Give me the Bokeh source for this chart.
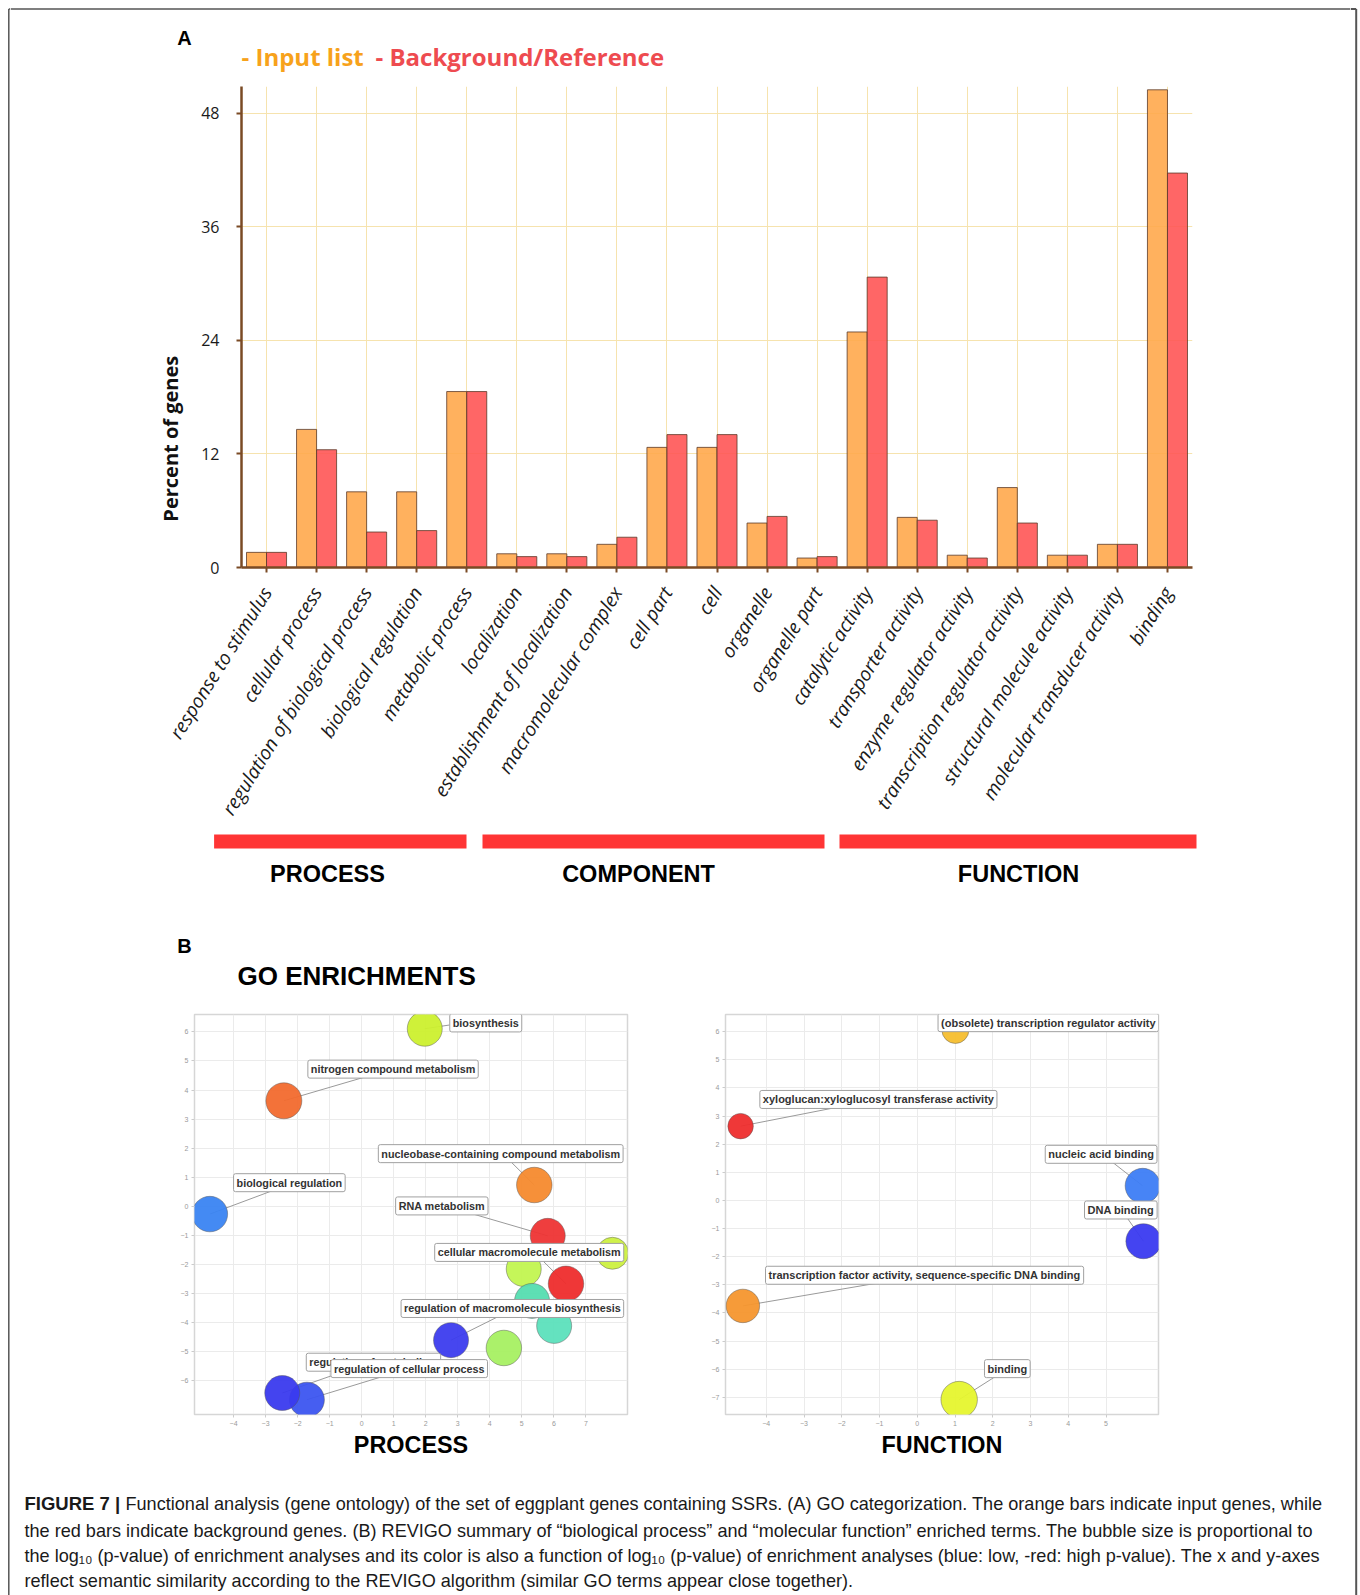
import numpy as np
from bokeh.plotting import figure
from bokeh.models import ColumnDataSource, FactorRange, Range1d, FixedTicker
from bokeh.layouts import row, column
from bokeh.transform import dodge
from bokeh.core.properties import value
from bokeh.embed import file_html
from bokeh.resources import INLINE

# ---------------- DATA ----------------
categories = ["response to stimulus", "cellular process", "regulation of biological process",
              "biological regulation", "metabolic process", "localization",
              "establishment of localization", "macromolecular complex", "cell part", "cell",
              "organelle", "organelle part", "catalytic activity", "transporter activity",
              "enzyme regulator activity", "transcription regulator activity",
              "structural molecule activity", "molecular transducer activity", "binding"]
input_pct = [1.6, 14.6, 8.0, 8.0, 18.6, 1.45, 1.45, 2.45, 12.7, 12.7, 4.7, 1.0,
             24.9, 5.3, 1.3, 8.45, 1.3, 2.45, 50.5]
background_pct = [1.6, 12.45, 3.75, 3.9, 18.6, 1.15, 1.15, 3.2, 14.05, 14.05, 5.4, 1.15,
                  30.7, 5.0, 1.0, 4.7, 1.3, 2.45, 41.7]
y_ticks = [0, 12, 24, 36, 48]
y_title = "Percent of genes"
legend_labels = ["- Input list", "- Background/Reference"]
ontology_groups = ["PROCESS", "COMPONENT", "FUNCTION"]

# REVIGO bubbles: biological process
proc_x = [1.97, -2.43, 5.39, -4.74, 5.81, 7.83, 5.06, 5.32, 6.38, 6.01, 2.79, 4.44, -1.71, -2.48]
proc_y = [6.11, 3.63, 0.73, -0.27, -1.02, -1.62, -2.16, -3.26, -2.67, -4.12, -4.61, -4.88, -6.66, -6.43]
proc_color = ["#CCF02E", "#F26A2E", "#F58A2E", "#3A84F2", "#EE3434", "#CCF040", "#C2F550",
              "#55DDB0", "#EE2C2C", "#5CE0BC", "#3C3CEE", "#A6F062", "#3C55F0", "#3A3AEE"]
proc_logp = [3.5, 3.6, 3.55, 3.55, 3.5, 3.2, 3.5, 3.5, 3.55, 3.5, 3.5, 3.55, 3.5, 3.5]
proc_labels = ["biosynthesis", "nitrogen compound metabolism",
               "nucleobase-containing compound metabolism", "biological regulation",
               "RNA metabolism", "cellular macromolecule metabolism",
               "regulation of macromolecule biosynthesis", "regulation of metabolism",
               "regulation of cellular process"]
proc_label_of = [0, 1, 2, 3, 4, 8, 10, 13, 12]
proc_label_x = [2.75, -1.68, 0.52, -4.0, 1.06, 2.28, 1.23, -1.73, -0.96]
proc_label_y = [6.31, 4.72, 1.81, 0.81, 0.01, -1.59, -3.52, -5.37, -5.59]
proc_link_x = [2.75, 0.17, 4.64, -2.75, 3.39, 5.63, 4.28, -0.77, 0.69]
proc_link_y = [6.24, 4.47, 1.55, 0.55, -0.24, -1.85, -3.79, -5.77, -5.85]

# REVIGO bubbles: molecular function
func_x = [1.01, -4.68, 5.97, 5.99, -4.62, 1.11]
func_y = [6.06, 2.64, 0.52, -1.45, -3.75, -7.08]
func_color = ["#F5BE2E", "#EE2D2D", "#3D7DF5", "#3A3AF0", "#F5962E", "#E6F52E"]
func_logp = [2.7, 2.55, 3.5, 3.5, 3.35, 3.65]
func_labels = ["(obsolete) transcription regulator activity",
               "xyloglucan:xyloglucosyl transferase activity", "nucleic acid binding",
               "DNA binding", "transcription factor activity, sequence-specific DNA binding",
               "binding"]
func_label_of = [0, 1, 2, 3, 4, 5]
func_label_x = [0.55, -4.17, 3.39, 4.43, -4.02, 1.78]
func_label_y = [6.32, 3.59, 1.64, -0.34, -2.66, -5.98]
func_link_x = [0.9, -2.13, 5.15, 5.55, -1.02, 2.07]
func_link_y = [6.2, 3.31, 1.38, -0.60, -2.93, -6.26]

caption_lines = [
    "Functional analysis (gene ontology) of the set of eggplant genes containing SSRs. (A) GO categorization. The orange bars indicate input genes, while",
    "the red bars indicate background genes. (B) REVIGO summary of \u201cbiological process\u201d and \u201cmolecular function\u201d enriched terms. The bubble size is proportional to",
    "the log\u2081\u2080 (p-value) of enrichment analyses and its color is also a function of log\u2081\u2080 (p-value) of enrichment analyses (blue: low, -red: high p-value). The x and y-axes",
    "reflect semantic similarity according to the REVIGO algorithm (similar GO terms appear close together).",
]

# ---------------- helpers ----------------
BORDER = "#555555"
FONT_S = "Open Sans"
ARIAL_S = "Liberation Sans"
FONT = value(FONT_S)
ARIAL = value(ARIAL_S)
NBSP = "\u00a0"


def canvas(w, h, x0, y0):
    p = figure(width=w, height=h, x_range=Range1d(x0, x0 + w), y_range=Range1d(y0 + h, y0),
               output_backend="svg", toolbar_location=None,
               x_axis_location=None, y_axis_location=None,
               min_border_left=0, min_border_right=0, min_border_top=0, min_border_bottom=0)
    p.outline_line_color = None
    p.grid.visible = False
    return p


# ---------------- side strips (outer frame) ----------------
lstrip = canvas(10, 1595, 0, 0)
lstrip.segment(x0=[8.3, 8.3], y0=[8.5, 8.5], x1=[8.3, 10], y1=[1600, 8.5],
               line_color=BORDER, line_width=1.5)
rstrip = canvas(10, 1595, 1350, 0)
rstrip.segment(x0=[1355.7, 1350], y0=[8.5, 8.5], x1=[1355.7, 1355.7], y1=[1600, 8.5],
               line_color=BORDER, line_width=2)

# ---------------- header A ----------------
head_a = canvas(1340, 86, 10, 0)
head_a.segment(x0=[10], y0=[8.5], x1=[1350], y1=[8.5], line_color=BORDER, line_width=1.5)
head_a.text(x=[184], y=[37], text=["A"], text_font=ARIAL, text_font_style="bold",
            text_font_size="20px", text_color="#000000", text_align="center", text_baseline="middle")
head_a.text(x=[241, 375], y=[56, 56], text=legend_labels, text_font=FONT, text_font_style="bold",
            text_font_size="24px", text_color=["#F7A21B", "#EE4B50"],
            text_align="left", text_baseline="middle")

# ---------------- bar chart ----------------
bar = figure(x_range=FactorRange(factors=categories), y_range=Range1d(0, 50.85),
             width=1340, height=744, output_backend="svg", toolbar_location=None,
             min_border_left=231, min_border_right=158, min_border_top=0, min_border_bottom=262)
bar.outline_line_color = None
src = ColumnDataSource(dict(cat=categories, inp=input_pct, bg=background_pct))
bar.vbar(x=dodge("cat", -0.2, range=bar.x_range), top="inp", width=0.4, source=src,
         fill_color="#FFA94D", fill_alpha=0.9, line_color="#5b3b2b", line_alpha=0.8, line_width=1)
bar.vbar(x=dodge("cat", 0.2, range=bar.x_range), top="bg", width=0.4, source=src,
         fill_color="#FF5555", fill_alpha=0.9, line_color="#5b3b2b", line_alpha=0.8, line_width=1)
bar.xgrid.grid_line_color = "#F6E3AE"
bar.ygrid.grid_line_color = "#F6E3AE"
bar.ygrid.ticker = FixedTicker(ticks=[12, 24, 36, 48])
bar.yaxis.ticker = FixedTicker(ticks=y_ticks)
AX = "#7A4A24"
for ax in (bar.xaxis, bar.yaxis):
    ax.axis_line_color = AX
    ax.axis_line_width = 2.5
    ax.major_tick_line_color = AX
    ax.major_tick_line_width = 2
    ax.major_tick_in = 0
    ax.major_tick_out = 5
    ax.minor_tick_line_color = None
    ax.major_label_text_font = FONT_S
    ax.major_label_text_color = "#1a1a1a"
bar.yaxis.major_label_text_font_size = "16px"
bar.yaxis.major_label_standoff = 17
# title shifted below the frame centre (as in the reference) with trailing no-break spaces
bar.yaxis.axis_label = y_title + NBSP * 43
bar.yaxis.axis_label_text_font = FONT_S
bar.yaxis.axis_label_text_font_style = "bold"
bar.yaxis.axis_label_text_font_size = "20px"
bar.yaxis.axis_label_text_color = "#111111"
bar.yaxis.axis_label_standoff = 14
bar.xaxis.major_label_text_font_size = "19.2px"
bar.xaxis.major_label_text_font_style = "italic"
bar.xaxis.major_label_orientation = float(np.deg2rad(58))
bar.xaxis.major_label_standoff = 16

# ---------------- group strip ----------------
strip = canvas(1340, 75, 10, 830)
strip.quad(left=[213.6, 482, 839], right=[466, 824, 1196], top=[834, 834, 834],
           bottom=[848, 848, 848], fill_color="#FF3535", line_color=None)
strip.text(x=[327, 638, 1018], y=[873, 873, 873], text=ontology_groups, text_font=ARIAL,
           text_font_style="bold", text_font_size="23.5px", text_color="#000000",
           text_align="center", text_baseline="middle")

# ---------------- header B ----------------
head_b = canvas(1340, 100, 10, 905)
head_b.text(x=[184], y=[945], text=["B"], text_font=ARIAL, text_font_style="bold",
            text_font_size="20px", text_color="#000000", text_align="center", text_baseline="middle")
head_b.text(x=[237], y=[975.5], text=["GO ENRICHMENTS"], text_font=ARIAL, text_font_style="bold",
            text_font_size="26px", text_color="#000000", text_align="left", text_baseline="middle")


# ---------------- REVIGO bubble plots ----------------
def bubble_fig(w, xr, yr, borders, xticks, yticks, title, bx, by, bc, bs,
               labels, label_of, lx, ly, kx, ky, fsize):
    p = figure(width=w, height=465, x_range=Range1d(*xr), y_range=Range1d(*yr),
               output_backend="svg", toolbar_location=None,
               min_border_left=borders[0], min_border_right=borders[1],
               min_border_top=borders[2], min_border_bottom=borders[3])
    p.outline_line_color = "#d6d6d6"
    p.outline_line_width = 1.5
    p.xaxis.ticker = FixedTicker(ticks=xticks)
    p.yaxis.ticker = FixedTicker(ticks=yticks)
    p.xgrid.ticker = FixedTicker(ticks=xticks)
    p.ygrid.ticker = FixedTicker(ticks=yticks)
    p.grid.grid_line_color = "#ebebeb"
    for ax in (p.xaxis, p.yaxis):
        ax.axis_line_color = None
        ax.major_tick_line_color = "#cccccc"
        ax.major_tick_in = 0
        ax.major_tick_out = 3
        ax.minor_tick_line_color = None
        ax.major_label_text_font_size = "7px"
        ax.major_label_text_color = "#9a9a9a"
        ax.major_label_text_font = ARIAL_S
        ax.major_label_standoff = 3
    p.xaxis.axis_label = title
    p.xaxis.axis_label_text_font = ARIAL_S
    p.xaxis.axis_label_text_font_style = "bold"
    p.xaxis.axis_label_text_font_size = "23.4px"
    p.xaxis.axis_label_text_color = "#000000"
    p.xaxis.axis_label_standoff = 3
    # leader lines
    p.segment(x0=[bx[i] for i in label_of], y0=[by[i] for i in label_of], x1=kx, y1=ky,
              line_color="#9a9a9a", line_width=1)
    # bubbles
    bsrc = ColumnDataSource(dict(x=bx, y=by, c=bc, s=[10 * v for v in bs]))
    p.scatter(x="x", y="y", size="s", marker="circle", fill_color="c", fill_alpha=0.95,
              line_color="#555555", line_alpha=0.45, line_width=1, source=bsrc)
    # labels
    p.text(x=lx, y=ly, text=labels, text_font=ARIAL, text_font_style="bold",
           text_font_size=fsize, text_color="#333333", text_align="left", text_baseline="middle",
           background_fill_color="#ffffff", border_line_color="#a0a0a0", border_line_width=1,
           padding=3, border_radius=2)
    return p


left_sc = bubble_fig(680, (-5.22, 8.3), (-7.17, 6.6), (184, 63, 7, 56),
                     list(range(-4, 8)), list(range(-6, 7)), "PROCESS",
                     proc_x, proc_y, proc_color, proc_logp, proc_labels, proc_label_of,
                     proc_label_x, proc_label_y, proc_link_x, proc_link_y, "10.8px")
right_sc = bubble_fig(660, (-5.08, 6.39), (-7.61, 6.61), (35, 192, 9, 53),
                      list(range(-4, 6)), list(range(-7, 7)), "FUNCTION",
                      func_x, func_y, func_color, func_logp, func_labels, func_label_of,
                      func_label_x, func_label_y, func_link_x, func_link_y, "11px")

# ---------------- caption ----------------
cap = canvas(1340, 125, 10, 1470)
cap.text(x=[24], y=[1503], text=["FIGURE 7 |"], text_font=ARIAL, text_font_style="bold",
         text_font_size="18.5px", text_color="#1a1a1a", text_align="left", text_baseline="middle")
cap.text(x=[125, 24, 24, 24], y=[1503, 1530, 1555, 1580], text=caption_lines, text_font=ARIAL,
         text_font_size="18.1px", text_color="#1a1a1a", text_align="left", text_baseline="middle")

content = column(row(head_a), row(bar), row(strip), row(head_b),
                 row(left_sc, right_sc), row(cap))
layout = row(lstrip, content, rstrip)

open("out.html", "w").write(file_html(layout, INLINE))
